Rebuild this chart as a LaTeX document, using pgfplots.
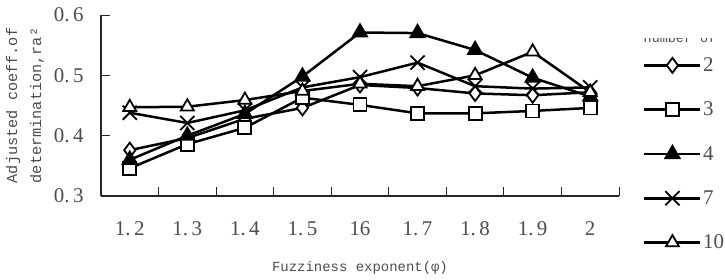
\documentclass[border=0pt]{standalone}
\usepackage{pgfplots}
\pgfplotsset{compat=1.18}
\usepackage{fontspec}
\setmainfont{Liberation Serif}
\newfontfamily\monofont{Liberation Mono}
\definecolor{txt}{gray}{0.3}
\begin{document}
\begin{tikzpicture}
\path[use as bounding box] (-101bp,-84bp) rectangle (624bp,196bp);
\begin{axis}[
  scale only axis, width=518bp, height=181bp,
  at={(0,0)}, anchor=south west,
  xmin=-0.5, xmax=8.5, ymin=0.3, ymax=0.6,
  axis lines*=left,
  axis line style={line width=1.2bp, black!85},
  xtick={0.5,1.5,...,8.5},
  xticklabels={1.\,2,1.\,3,1.\,4,1.\,5,16,1.\,7,1.\,8,1.\,9,2},
  xticklabel style={xshift=-28.8bp, yshift=-22bp, font=\fontsize{21}{21}\selectfont, text=txt},
  ytick={0.3,0.4,0.5,0.6},
  yticklabels={0.\,3,0.\,4,0.\,5,0.\,6},
  yticklabel style={xshift=-14bp, font=\fontsize{21}{21}\selectfont, text=txt},
  tick align=inside,
  major tick length=9bp,
  tick style={line width=1bp, black!85},
  xlabel={Fuzziness exponent(φ)},
  xlabel style={at={(axis description cs:0.5,-0.398)}, anchor=center, font=\monofont\fontsize{14}{14}\selectfont, text=txt},
  ylabel={Adjusted coeff.of\\determination,ra²},
  ylabel style={at={(axis description cs:-0.1467,0.5)}, anchor=center, align=center, font=\monofont\fontsize{15.3}{24}\selectfont, text=txt},
  clip=false,
  every axis plot/.append style={line width=2.5bp, black, mark options={solid, line width=1.8bp, fill=white}},
  legend style={draw=none, fill=none, at={(1,1)}, anchor=north west, xshift=24bp, yshift=-41bp,
    font=\fontsize{21}{21}\selectfont, text=txt, row sep=26bp, inner sep=0pt, nodes={inner sep=1.5bp}},
  legend cell align=left,
  legend image code/.code={\draw[mark repeat=2,mark phase=2] plot coordinates {(0bp,0bp)(28bp,0bp)(56bp,0bp)};},
]
\addplot[mark=diamond*, mark size=7.5bp] coordinates {
(0,0.376) (1,0.396) (2,0.428) (3,0.446) (4,0.484) (5,0.479) (6,0.470) (7,0.467) (8,0.472)};
\addlegendentry{2}
\addplot[mark=square*, mark size=6.5bp] coordinates {
(0,0.346) (1,0.386) (2,0.413) (3,0.463) (4,0.451) (5,0.437) (6,0.437) (7,0.441) (8,0.446)};
\addlegendentry{3}
\addplot[mark=triangle*, mark size=7.5bp, mark options={fill=black}] coordinates {
(0,0.360) (1,0.400) (2,0.436) (3,0.498) (4,0.571) (5,0.570) (6,0.542) (7,0.496) (8,0.465)};
\addlegendentry{4}
\addplot[mark=x, mark size=10bp] coordinates {
(0,0.438) (1,0.421) (2,0.442) (3,0.480) (4,0.497) (5,0.521) (6,0.482) (7,0.478) (8,0.480)};
\addlegendentry{7}
\addplot[mark=triangle*, mark size=7.5bp] coordinates {
(0,0.447) (1,0.448) (2,0.459) (3,0.474) (4,0.486) (5,0.482) (6,0.500) (7,0.539) (8,0.472)};
\addlegendentry{10}
\end{axis}
\begin{scope}
\clip (500bp,150bp) rectangle (624bp,157bp);
\node[anchor=base, text=txt, font=\monofont\fontsize{13.5}{14}\selectfont] at (579bp,153bp) {number of};
\end{scope}
\end{tikzpicture}
\end{document}
